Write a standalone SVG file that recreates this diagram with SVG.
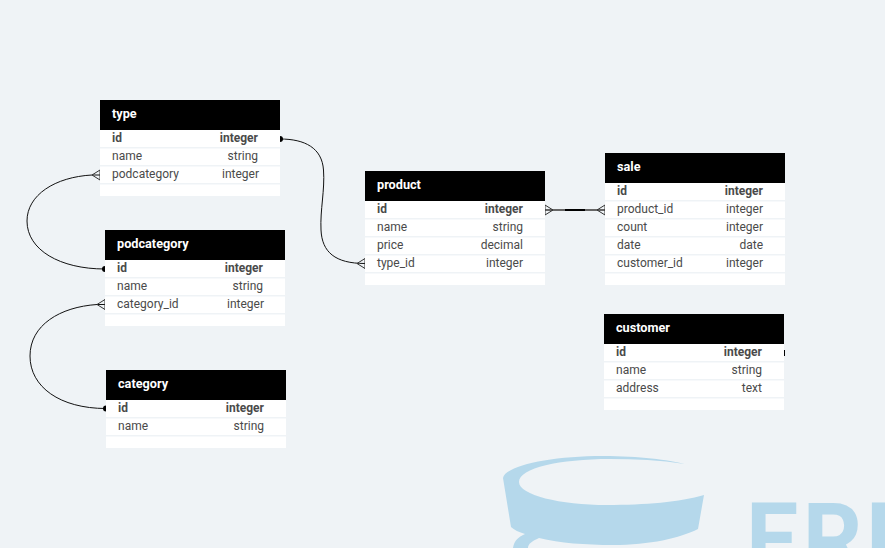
<svg xmlns="http://www.w3.org/2000/svg" width="885" height="548" viewBox="0 0 885 548">
<style>
text{font-family:Roboto,"Liberation Sans",Arial,sans-serif;font-size:12px;fill:#4a4a4a}
.h{fill:#000}
.r{fill:#fff}
text.t{font-size:12.7px;font-weight:700;fill:#fff}
.b{font-weight:700}
.e{text-anchor:end}
.c{fill:none;stroke:#111;stroke-width:1}
.m{fill:none;stroke:#333;stroke-width:1}
.logo{fill:#b5d8eb}
</style>
<rect width="885" height="548" fill="#eff3f6"/>
<g id="logo">
<path class="logo" d="M503 478C505 466 550 456 603 456C640 456 668 460 685 464C660 460 635 459 610 459C560 459 519 468 519 482C519 495 560 505 607 505C645 505 680 502 704 495L698 529C680 538 650 545 613 545C585 545 560 543 539 538C532 541 528 544 528 548L513 548C514 541 518 537 525 534C519 532 514 530 511 527Z"/>
<text x="0 61 129" y="0" transform="translate(746 573.500) scale(.93 1)" style="font-size:100px;font-weight:700;fill:#b5d8eb">ERD</text>
</g>
<g id="connectors">
<path class="c" d="M280 139C305 139 322 148 323.500 170C325 190 320 210 321 230C322 252 335 263.500 365 263.500"/>
<path class="c" d="M100 175H92C55 177 27 195 27 221C27 250 60 269 105 269"/>
<path class="c" d="M105 304.500H97C60 307 30 325 30 356C30 387 60 408.500 106 408.500"/>
<path d="M545 210H605" fill="none" stroke="#666" stroke-width="2"/>
<path d="M565 210H585" fill="none" stroke="#000" stroke-width="2"/>
<circle cx="280" cy="139" r="3"/>
<circle cx="105" cy="269" r="3"/>
<circle cx="106" cy="408.500" r="3"/>
<rect x="783.500" y="350" width="1.500" height="6"/>
<path class="m" d="M100 170L92 175L100 180M100 170V180"/>
<path class="m" d="M105 299.500L97 304.500L105 309.500M105 299.500V309.500"/>
<path class="m" d="M365 258.500L357 263.500L365 268.500M365 258.500V268.500"/>
<path class="m" d="M605 205L597 210L605 215M605 205V215"/>
<path class="m" d="M545 205L553 210L545 215M545 205V215"/>
</g>
<g id="type">
<rect class="h" x="100" y="100" width="180" height="30"/>
<rect class="r" x="100" y="130" width="180" height="17"/><rect class="r" x="100" y="148.500" width="180" height="16.500"/><rect class="r" x="100" y="166.500" width="180" height="16.500"/><rect class="r" x="100" y="184.500" width="180" height="11.500"/>
<text class="t" x="112" y="118">type</text>
<text class="b" x="112" y="142">id</text><text class="b e" x="258" y="142">integer</text>
<text x="112" y="160">name</text><text class="e" x="258" y="160">string</text>
<text x="112" y="178">podcategory</text><text class="e" x="259" y="178">integer</text>
</g>
<g id="podcategory">
<rect class="h" x="105" y="230" width="180" height="30"/>
<rect class="r" x="105" y="260" width="180" height="17"/><rect class="r" x="105" y="278.500" width="180" height="16.500"/><rect class="r" x="105" y="296.500" width="180" height="16.500"/><rect class="r" x="105" y="314.500" width="180" height="11.500"/>
<text class="t" x="117" y="248">podcategory</text>
<text class="b" x="117" y="272">id</text><text class="b e" x="263" y="272">integer</text>
<text x="117" y="290">name</text><text class="e" x="263" y="290">string</text>
<text x="117" y="308">category_id</text><text class="e" x="264" y="308">integer</text>
</g>
<g id="category">
<rect class="h" x="106" y="370" width="180" height="30"/>
<rect class="r" x="106" y="400" width="180" height="17"/><rect class="r" x="106" y="418.500" width="180" height="16.500"/><rect class="r" x="106" y="436.500" width="180" height="11.500"/>
<text class="t" x="118" y="388">category</text>
<text class="b" x="118" y="412">id</text><text class="b e" x="264" y="412">integer</text>
<text x="118" y="430">name</text><text class="e" x="264" y="430">string</text>
</g>
<g id="product">
<rect class="h" x="365" y="171" width="180" height="30"/>
<rect class="r" x="365" y="201" width="180" height="17"/><rect class="r" x="365" y="219.500" width="180" height="16.500"/><rect class="r" x="365" y="237.500" width="180" height="16.500"/><rect class="r" x="365" y="255.500" width="180" height="16.500"/><rect class="r" x="365" y="273.500" width="180" height="11.500"/>
<text class="t" x="377" y="189">product</text>
<text class="b" x="377" y="213">id</text><text class="b e" x="523" y="213">integer</text>
<text x="377" y="231">name</text><text class="e" x="523" y="231">string</text>
<text x="377" y="249">price</text><text class="e" x="523" y="249">decimal</text>
<text x="377" y="267">type_id</text><text class="e" x="523" y="267">integer</text>
</g>
<g id="sale">
<rect class="h" x="605" y="153" width="180" height="30"/>
<rect class="r" x="605" y="183" width="180" height="17"/><rect class="r" x="605" y="201.500" width="180" height="16.500"/><rect class="r" x="605" y="219.500" width="180" height="16.500"/><rect class="r" x="605" y="237.500" width="180" height="16.500"/><rect class="r" x="605" y="255.500" width="180" height="16.500"/><rect class="r" x="605" y="273.500" width="180" height="11.500"/>
<text class="t" x="617" y="171">sale</text>
<text class="b" x="617" y="195">id</text><text class="b e" x="763" y="195">integer</text>
<text x="617" y="213">product_id</text><text class="e" x="763" y="213">integer</text>
<text x="617" y="231">count</text><text class="e" x="763" y="231">integer</text>
<text x="617" y="249">date</text><text class="e" x="763" y="249">date</text>
<text x="617" y="267">customer_id</text><text class="e" x="763" y="267">integer</text>
</g>
<g id="customer">
<rect class="h" x="604" y="314" width="180" height="30"/>
<rect class="r" x="604" y="344" width="180" height="17"/><rect class="r" x="604" y="362.500" width="180" height="16.500"/><rect class="r" x="604" y="380.500" width="180" height="16.500"/><rect class="r" x="604" y="398.500" width="180" height="11.500"/>
<text class="t" x="616" y="332">customer</text>
<text class="b" x="616" y="356">id</text><text class="b e" x="762" y="356">integer</text>
<text x="616" y="374">name</text><text class="e" x="762" y="374">string</text>
<text x="616" y="392">address</text><text class="e" x="762" y="392">text</text>
</g>
</svg>
